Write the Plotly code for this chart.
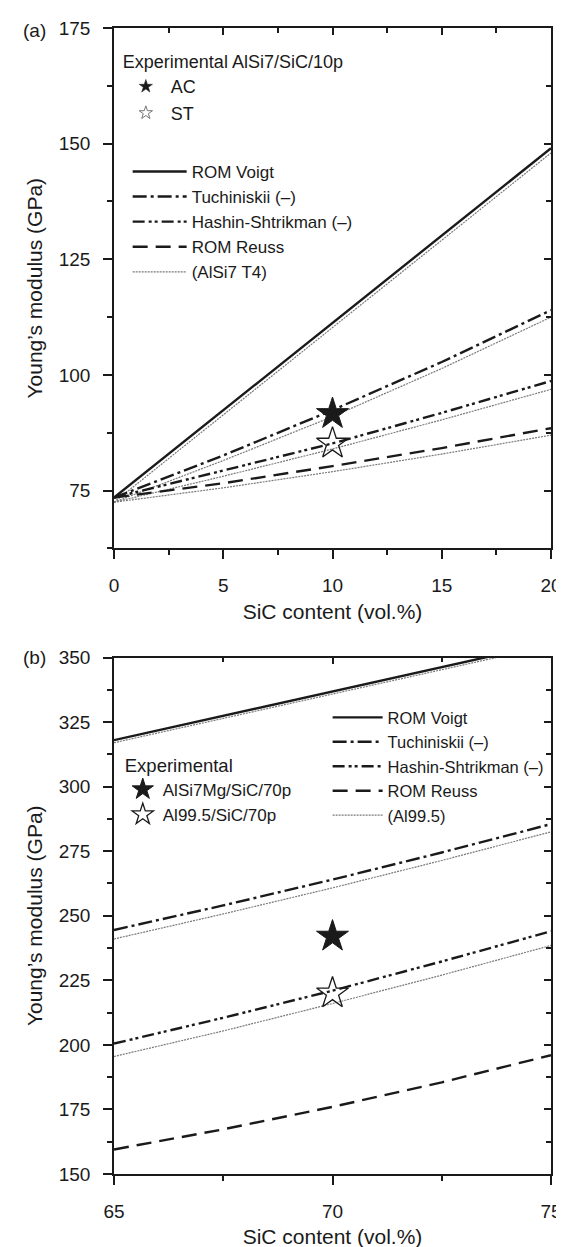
import plotly.graph_objects as go

# ---------------- data ----------------
# panel (a): AlSi7 / SiC, 0-20 vol.%
x_a = [0, 5, 10, 15, 20]
voigt_a = [73.5, 92.4, 111.3, 130.1, 149.0]
tuch_a = [73.5, 82.6, 92.4, 102.8, 114.0]
hs_a = [73.5, 79.3, 85.2, 91.8, 98.7]
reuss_a = [73.5, 76.6, 80.3, 84.2, 88.5]
voigt_a_t4 = [72.5, 91.4, 110.3, 129.1, 148.0]
tuch_a_t4 = [72.5, 81.5, 91.0, 101.4, 112.5]
hs_a_t4 = [72.5, 78.1, 84.0, 90.3, 96.9]
reuss_a_t4 = [72.5, 75.6, 79.1, 82.9, 87.0]
exp_a_x = [10]
exp_a_ac = [91.6]
exp_a_st = [85.2]

# panel (b): Al / SiC, 65-75 vol.%
x_b = [65, 67.5, 70, 72.5, 75]
voigt_b = [318.0, 327.4, 336.8, 346.3, 355.7]
tuch_b = [244.5, 254.0, 264.0, 274.5, 285.5]
hs_b = [200.5, 210.5, 221.0, 232.3, 244.0]
reuss_b = [159.5, 167.3, 176.0, 185.5, 196.0]
voigt_b_al = [317.0, 326.4, 335.8, 345.3, 354.7]
tuch_b_al = [241.0, 250.7, 260.8, 271.4, 282.5]
hs_b_al = [195.5, 205.4, 216.0, 227.0, 238.5]
exp_b_x = [70]
exp_b_alsi7mg = [242.0]
exp_b_al995 = [220.0]

model_names = ["ROM Voigt", "Tuchiniskii (–)", "Hashin-Shtrikman (–)", "ROM Reuss"]

# ---------------- geometry ----------------
W, H = 564, 1247
ML, MR, MT, MB = 106, 10, 12, 79
PH = H - MT - MB
PW = W - ML - MR


def py(p):
    """pixel y -> paper y"""
    return 1 - (p - MT) / PH


def px(p):
    """pixel x -> paper x"""
    return (p - ML) / PW


FONT = "Liberation Sans, Arial, sans-serif"
INK = "#1a1a1a"
GREY = "#7a7a7a"
LW = 2.4
dashes = ["solid", "14px,4px,3px,4px", "12px,4px,3px,3px,3px,4px", "15px,8px"]

fig = go.Figure()

# panel (a) companion (AlSi7 T4) lines
for ys in [voigt_a_t4, tuch_a_t4, hs_a_t4, reuss_a_t4]:
    fig.add_trace(go.Scatter(x=x_a, y=ys, mode="lines", xaxis="x", yaxis="y",
                             line=dict(color=GREY, width=1.2, dash="2px,1px"),
                             name="(AlSi7 T4)", legend="legend2",
                             showlegend=False, hoverinfo="skip"))
for name, ys, d in zip(model_names, [voigt_a, tuch_a, hs_a, reuss_a], dashes):
    fig.add_trace(go.Scatter(x=x_a, y=ys, mode="lines", xaxis="x", yaxis="y",
                             line=dict(color=INK, width=LW, dash=d),
                             name=name, legend="legend2"))
fig.add_trace(go.Scatter(x=[None], y=[None], mode="lines", xaxis="x", yaxis="y",
                         line=dict(color=GREY, width=1.2, dash="2px,1px"),
                         name="(AlSi7 T4)", legend="legend2"))
# experimental (a)
fig.add_trace(go.Scatter(x=exp_a_x, y=exp_a_ac, mode="markers", xaxis="x", yaxis="y",
                         marker=dict(symbol="star", size=24, color=INK,
                                     line=dict(color=INK, width=1)),
                         name="AC", showlegend=False))
fig.add_trace(go.Scatter(x=exp_a_x, y=exp_a_st, mode="markers", xaxis="x", yaxis="y",
                         marker=dict(symbol="star-open", size=24, color=INK,
                                     line=dict(color=INK, width=1.3)),
                         name="ST", showlegend=False))
fig.add_trace(go.Scatter(x=[None], y=[None], mode="markers", xaxis="x", yaxis="y",
                         marker=dict(symbol="star", size=10, color=INK,
                                     line=dict(color=INK, width=0.5)),
                         name="AC", legend="legend"))
fig.add_trace(go.Scatter(x=[None], y=[None], mode="markers", xaxis="x", yaxis="y",
                         marker=dict(symbol="star-open", size=10, color="#777",
                                     line=dict(color="#777", width=1)),
                         name="ST", legend="legend"))

# panel (b) companion (Al99.5) lines
for ys in [voigt_b_al, tuch_b_al, hs_b_al]:
    fig.add_trace(go.Scatter(x=x_b, y=ys, mode="lines", xaxis="x2", yaxis="y2",
                             line=dict(color=GREY, width=1.2, dash="2px,1px"),
                             name="(Al99.5)", legend="legend3",
                             showlegend=False, hoverinfo="skip"))
for name, ys, d in zip(model_names, [voigt_b, tuch_b, hs_b, reuss_b], dashes):
    fig.add_trace(go.Scatter(x=x_b, y=ys, mode="lines", xaxis="x2", yaxis="y2",
                             line=dict(color=INK, width=LW, dash=d),
                             name=name, legend="legend3"))
fig.add_trace(go.Scatter(x=[None], y=[None], mode="lines", xaxis="x2", yaxis="y2",
                         line=dict(color=GREY, width=1.2, dash="2px,1px"),
                         name="(Al99.5)", legend="legend3"))
fig.add_trace(go.Scatter(x=exp_b_x, y=exp_b_alsi7mg, mode="markers", xaxis="x2", yaxis="y2",
                         marker=dict(symbol="star", size=24, color=INK,
                                     line=dict(color=INK, width=1)),
                         name="AlSi7Mg/SiC/70p", legend="legend4"))
fig.add_trace(go.Scatter(x=exp_b_x, y=exp_b_al995, mode="markers", xaxis="x2", yaxis="y2",
                         marker=dict(symbol="star-open", size=24, color=INK,
                                     line=dict(color=INK, width=1.3)),
                         name="Al99.5/SiC/70p", legend="legend4"))

# dummy traces so the overlay (inner-tick) axes are drawn
fig.add_trace(go.Scatter(x=[None], y=[None], xaxis="x3", yaxis="y3", showlegend=False))
fig.add_trace(go.Scatter(x=[None], y=[None], xaxis="x4", yaxis="y4", showlegend=False))

tickfont = dict(family=FONT, size=19, color=INK)
titlefont = dict(family=FONT, size=21, color=INK)
ya_dom = [py(537), 1]
yb_dom = [0, py(647)]


def base_axis(rng, dtick, minor, title, standoff, lstand, domain=None, anchor=None):
    d = dict(range=rng, dtick=dtick, tick0=0, showgrid=False, zeroline=False,
             showline=True, linecolor=INK, linewidth=1.6,
             ticks="outside", ticklen=9, tickwidth=1.6, tickcolor=INK,
             tickfont=tickfont, ticklabelstandoff=lstand, ticklabeloverflow="allow",
             title=dict(text=title, font=titlefont, standoff=standoff),
             minor=dict(dtick=minor, ticks="outside", ticklen=5, tickwidth=1.6,
                        tickcolor=INK, showgrid=False),
             fixedrange=True)
    if domain is not None:
        d["domain"] = domain
    if anchor is not None:
        d["anchor"] = anchor
    return d


def inner_axis(rng, dtick, minor, overlay, anchor, side):
    d = dict(range=rng, dtick=dtick, tick0=0, showgrid=False, zeroline=False,
             showline=True, linecolor=INK, linewidth=1.6,
             ticks="inside", ticklen=7, tickwidth=1.6, tickcolor=INK,
             showticklabels=False, overlaying=overlay, anchor=anchor, side=side,
             minor=dict(dtick=minor, ticks="inside", ticklen=5, tickwidth=1.6,
                        tickcolor=INK, showgrid=False),
             fixedrange=True)
    return d


ytitle = "Young’s modulus (GPa)"
xtitle = "SiC content (vol.%)"

fa_items = dict(family=FONT, size=18, color=INK)
fa_title = dict(family=FONT, size=18, color=INK)
fa_lines = dict(family=FONT, size=17, color=INK)
fb_lines = dict(family=FONT, size=16.5, color=INK)
fb_items = dict(family=FONT, size=17, color=INK)
fb_title = dict(family=FONT, size=18.5, color=INK)

fig.update_layout(
    width=W, height=H,
    margin=dict(l=ML, r=MR, t=MT, b=MB),
    paper_bgcolor="white", plot_bgcolor="white",
    font=dict(family=FONT, color=INK),
    xaxis=base_axis([0, 20], 5, 2.5, xtitle, 9, 10, anchor="y"),
    yaxis=base_axis([62.5, 175], 25, 12.5, ytitle, 10, 9, domain=ya_dom, anchor="x"),
    xaxis2=base_axis([65, 75], 5, 2.5, xtitle, 9, 10, anchor="y2"),
    yaxis2=base_axis([150, 350], 25, 12.5, ytitle, 10, 9, domain=yb_dom, anchor="x2"),
    xaxis3=inner_axis([0, 20], 5, 2.5, "x", "y", "top"),
    yaxis3=inner_axis([62.5, 175], 25, 12.5, "y", "x", "right"),
    xaxis4=inner_axis([65, 75], 5, 2.5, "x2", "y2", "top"),
    yaxis4=inner_axis([150, 350], 25, 12.5, "y2", "x2", "right"),
    legend=dict(title=dict(text="Experimental AlSi7/SiC/10p", font=fa_title),
                font=fa_items, x=px(113), y=py(29), xanchor="left", yanchor="top",
                bgcolor="rgba(0,0,0,0)", itemwidth=40, tracegroupgap=0),
    legend2=dict(font=fa_lines, x=px(120), y=py(139), xanchor="left", yanchor="top",
                 bgcolor="rgba(0,0,0,0)", itemwidth=54),
    legend3=dict(font=fb_lines, x=px(325), y=py(690), xanchor="left", yanchor="top",
                 bgcolor="rgba(0,0,0,0)", itemwidth=50),
    legend4=dict(title=dict(text="Experimental", font=fb_title),
                 font=fb_items, x=px(115), y=py(738), xanchor="left", yanchor="top",
                 bgcolor="rgba(0,0,0,0)", itemwidth=30),
    annotations=[
        dict(text="(a)", x=px(11), y=py(15), xref="paper", yref="paper",
             xanchor="left", yanchor="middle", showarrow=False,
             font=dict(family=FONT, size=19, color=INK)),
        dict(text="(b)", x=px(11), y=py(647), xref="paper", yref="paper",
             xanchor="left", yanchor="middle", showarrow=False,
             font=dict(family=FONT, size=19, color=INK)),
    ],
)

fig.write_html("out.html")
